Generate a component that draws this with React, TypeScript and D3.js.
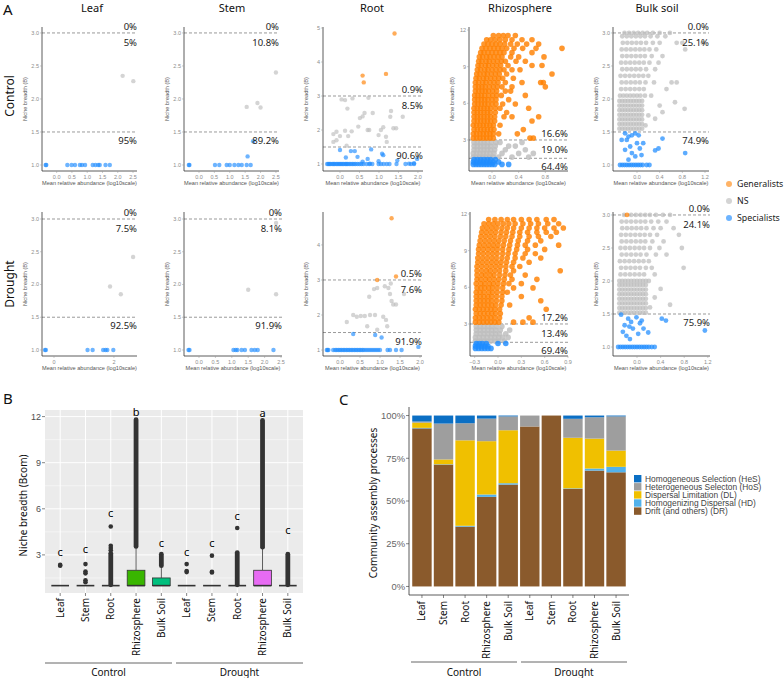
import React from "react";
import * as d3 from "d3";

type Pt = [number, number];
type Row = [number, number[]];
const fromRows = (r: Row[]): Pt[] => r.flatMap(([y, xs]) => xs.map((x) => [x, y] as Pt));
const atY = (y: number, xs: number[]): Pt[] => xs.map((x) => [x, y] as Pt);

// ---------------- Panel A data ----------------
const colTitles = ["Leaf", "Stem", "Root", "Rhizosphere", "Bulk soil"];
const rowTitles = ["Control", "Drought"];
const legendA = ["Generalists", "NS", "Specialists"];

// Leaf control
const leafC_S: Pt[] = atY(1, [-0.36, -0.34, 0.35, 0.49, 0.6, 0.76, 0.83, 0.93, 1.18, 1.27, 1.36, 1.41, 1.6, 1.74]);
const leafC_N: Pt[] = [[2.16, 2.35], [2.51, 2.27]];
// Stem control
const stemC_S: Pt[] = [...atY(1, [-0.33, -0.31, 0.52, 0.66, 0.9, 1.0, 1.15, 1.28, 1.39, 1.55, 1.68]), [1.58, 1.13], [1.76, 1.36]];
const stemC_N: Pt[] = [[1.55, 1.88], [1.9, 1.94], [2.0, 1.87], [2.5, 2.4]];
// Root control
const rootC_S: Pt[] = [
  ...atY(1, [-0.33, -0.3, -0.27, -0.24, -0.2, -0.17, -0.14, -0.1, -0.07, -0.03, 0, 0.03, 0.07, 0.1, 0.14, 0.17, 0.2, 0.24, 0.28, 0.32, 0.36, 0.4, 0.45, 0.5, 0.55, 0.6, 0.68, 0.75, 0.83, 0.99, 1.05, 1.12, 1.2, 1.27, 1.45, 1.68, 1.82, 1.9]),
  [0.0, 1.41], [0.15, 1.19], [0.28, 1.38], [0.38, 1.38], [0.45, 1.21], [0.58, 1.07], [0.71, 1.15], [0.8, 1.43], [0.77, 1.01],
  [1.08, 1.3], [1.11, 1.26], [0.99, 1.08], [1.47, 1.1], [1.98, 1.15], [1.9, 1.02], [1.77, 1.01],
];
const rootC_N: Pt[] = [
  [-0.17, 1.88], [-0.09, 1.95], [0, 1.82], [0.13, 1.98], [0.21, 1.82], [0.3, 1.96], [0.17, 1.54], [0.04, 2.9], [0.13, 2.88],
  [0.19, 2.63], [0.32, 2.93], [0.47, 2.1], [0.51, 2.35], [0.58, 2.4], [0.63, 2.5], [0.71, 2.0], [0.75, 2.0], [0.84, 2.5],
  [0.73, 2.95], [0.99, 1.85], [1.05, 2.0], [1.11, 2.08], [1.18, 1.8], [1.2, 1.65], [1.29, 2.39], [1.31, 2.56], [1.37, 2.05],
  [1.44, 2.05], [1.61, 2.39], [-0.09, 1.7], [-0.17, 1.65],
];
const rootC_G: Pt[] = [[1.4, 4.84], [0.58, 3.6], [0.61, 3.4], [1.18, 3.65]];
// Rhizosphere control
const rhizoC_G: Pt[] = fromRows([
  [3.15, [-0.28, -0.23, -0.18, -0.13, -0.08, -0.03, 0.02, 0.57, 0.62]],
  [3.5, [-0.28, -0.23, -0.18, -0.13, -0.08, -0.03, 0.02, 0.1, 0.38]],
  [3.85, [-0.27, -0.22, -0.17, -0.12, -0.07, -0.02, 0.03, 0.47]],
  [4.2, [-0.28, -0.23, -0.18, -0.13, -0.08, -0.03, 0.02, 0.12]],
  [4.55, [-0.27, -0.22, -0.17, -0.12, -0.07, -0.02, 0.04, 0.6]],
  [4.9, [-0.27, -0.22, -0.17, -0.12, -0.07, -0.02, 0.04, 0.18, 0.3, 0.7]],
  [5.25, [-0.27, -0.22, -0.17, -0.12, -0.07, -0.02, 0.05, 0.22]],
  [5.6, [-0.27, -0.22, -0.17, -0.12, -0.07, -0.02, 0.05, 0.12, 0.55]],
  [5.95, [-0.26, -0.21, -0.16, -0.11, -0.06, 0.0, 0.06, 0.16, 0.35]],
  [6.3, [-0.26, -0.21, -0.16, -0.11, -0.06, 0.0, 0.06, 0.25]],
  [6.65, [-0.26, -0.21, -0.16, -0.11, -0.05, 0.01, 0.07, 0.14, 0.5]],
  [7.0, [-0.25, -0.2, -0.15, -0.1, -0.05, 0.01, 0.07, 0.2, 0.28]],
  [7.35, [-0.25, -0.2, -0.15, -0.1, -0.04, 0.02, 0.08, 0.15, 0.3, 0.8]],
  [7.7, [-0.25, -0.2, -0.14, -0.09, -0.03, 0.03, 0.09, 0.2, 0.45, 0.73, 0.77]],
  [8.05, [-0.24, -0.19, -0.13, -0.08, -0.02, 0.04, 0.1, 0.16, 0.32]],
  [8.4, [-0.23, -0.18, -0.12, -0.07, -0.01, 0.05, 0.11, 0.22, 0.9]],
  [8.75, [-0.22, -0.17, -0.11, -0.06, 0.0, 0.06, 0.12, 0.18, 0.3, 0.42]],
  [9.1, [-0.21, -0.16, -0.1, -0.05, 0.01, 0.07, 0.13, 0.24, 0.6, 0.75]],
  [9.45, [-0.2, -0.15, -0.09, -0.04, 0.02, 0.08, 0.14, 0.2, 0.36, 0.5]],
  [9.8, [-0.19, -0.14, -0.08, -0.03, 0.03, 0.09, 0.15, 0.28, 0.4, 0.78]],
  [10.15, [-0.17, -0.12, -0.06, 0.0, 0.06, 0.12, 0.18, 0.3, 0.6]],
  [10.5, [-0.15, -0.09, -0.03, 0.03, 0.09, 0.15, 0.22, 0.33, 0.46, 0.66, 1.05]],
  [10.85, [-0.12, -0.06, 0.0, 0.06, 0.12, 0.19, 0.28, 0.38, 0.52, 0.7]],
  [11.2, [-0.08, -0.02, 0.05, 0.12, 0.2, 0.3, 0.45, 0.6]],
  [11.55, [0.02, 0.1, 0.17, 0.24, 0.35]],
]);
const rhizoC_N: Pt[] = fromRows([
  [1.6, [-0.28, -0.23, -0.18, -0.13, -0.08, -0.03, 0.02, 0.1, 0.3, 0.55]],
  [1.9, [-0.28, -0.23, -0.18, -0.13, -0.08, -0.03, 0.03, 0.15, 0.4, 0.62]],
  [2.2, [-0.27, -0.22, -0.17, -0.12, -0.07, -0.02, 0.04, 0.2, 0.5]],
  [2.5, [-0.27, -0.22, -0.17, -0.12, -0.07, -0.02, 0.05, 0.25, 0.35]],
  [2.8, [-0.27, -0.22, -0.17, -0.12, -0.07, -0.01, 0.06, 0.12, 0.45]],
]);
const rhizoC_S: Pt[] = fromRows([
  [1.0, [-0.28, -0.24, -0.2, -0.16, -0.12, -0.08, -0.04, 0.0, 0.04, 0.15, 0.25]],
  [1.2, [-0.28, -0.23, -0.18, -0.13, -0.08, -0.03, 0.02, 0.1]],
  [1.4, [-0.27, -0.22, -0.17, -0.12, -0.07, -0.02, 0.05]],
]);
// Bulk soil control
const bulkC_N: Pt[] = [
  ...fromRows([
    [1.55, [-0.31, -0.26, -0.21, -0.16, -0.11, -0.06, -0.01, 0.04, 0.09]],
    [1.62, [-0.31, -0.26, -0.21, -0.16, -0.11, -0.06, -0.01, 0.04, 0.09]],
    [1.69, [-0.31, -0.26, -0.21, -0.16, -0.11, -0.06, -0.01, 0.04, 0.09]],
    [1.76, [-0.31, -0.26, -0.21, -0.16, -0.11, -0.06, -0.01, 0.04, 0.09]],
    [1.83, [-0.31, -0.26, -0.21, -0.16, -0.11, -0.06, -0.01, 0.04, 0.09]],
    [1.9, [-0.31, -0.26, -0.21, -0.16, -0.11, -0.06, -0.01, 0.04, 0.09]],
    [1.97, [-0.31, -0.26, -0.21, -0.16, -0.11, -0.06, -0.01, 0.04, 0.09]],
    [2.05, [-0.3, -0.24, -0.18, -0.12, -0.06, 0.0, 0.06, 0.14, 0.25]],
    [2.15, [-0.28, -0.2, -0.12, -0.04, 0.04, 0.12, 0.52]],
    [2.25, [-0.27, -0.19, -0.11, -0.03, 0.05, 0.15, 0.3, 0.61, 0.7]],
    [2.35, [-0.29, -0.21, -0.13, -0.05, 0.03, 0.11, 0.2]],
    [2.45, [-0.26, -0.18, -0.1, -0.02, 0.06, 0.16, 0.32]],
    [2.55, [-0.28, -0.2, -0.12, -0.04, 0.04, 0.12, 0.22, 0.38]],
    [2.65, [-0.26, -0.18, -0.1, -0.02, 0.06, 0.14, 0.26, 0.45]],
    [2.75, [-0.27, -0.19, -0.11, -0.03, 0.05, 0.13, 0.22, 0.34, 0.85]],
    [2.85, [-0.25, -0.17, -0.09, -0.01, 0.07, 0.16, 0.28, 0.4, 0.7, 0.8, 1.16]],
    [2.95, [-0.26, -0.18, -0.1, -0.02, 0.06, 0.14, 0.24, 0.36, 0.5]],
    [3.0, [-0.22, -0.14, -0.06, 0.02, 0.1, 0.18, 0.28, 0.4, 0.58]],
  ]),
  [0.4, 1.9], [0.32, 1.7], [0.45, 1.8], [0.67, 1.95], [0.84, 1.85], [0.15, 1.6], [0.2, 1.75],
];
const bulkC_S: Pt[] = [
  ...atY(1, [-0.3, -0.26, -0.22, -0.18, -0.14, -0.1, -0.06, -0.02, 0.02, 0.06, 0.1, 0.17, 0.22]),
  [-0.21, 1.48], [-0.15, 1.43], [-0.18, 1.38], [-0.09, 1.45], [-0.03, 1.48], [-0.12, 1.28], [0.0, 1.33], [-0.21, 1.23],
  [-0.09, 1.18], [0.05, 1.25], [-0.03, 1.13], [-0.15, 1.08], [0.11, 1.33], [0.03, 1.45], [0.45, 1.4], [0.32, 1.22],
  [0.38, 1.25], [0.85, 1.18], [0.08, 1.15], [-0.27, 1.38],
];

// Leaf drought
const leafD_S: Pt[] = atY(1, [-0.3, -0.27, 1.12, 1.29, 1.64, 1.72, 1.78, 1.98]);
const leafD_N: Pt[] = [[1.87, 1.97], [2.23, 1.85], [2.64, 2.42]];
// Stem drought
const stemD_S: Pt[] = atY(1, [-0.32, -0.29, 1.05, 1.12, 1.17, 1.3, 1.4, 1.6, 1.7, 1.79, 2.27]);
const stemD_N: Pt[] = [[1.5, 1.92], [2.35, 1.85], [2.35, 2.94]];
// Root drought
const rootD_S: Pt[] = [
  ...atY(1, [-0.33, -0.31, -0.29, -0.17, -0.12, -0.08, -0.04, 0, 0.04, 0.08, 0.12, 0.16, 0.2, 0.24, 0.28, 0.32, 0.36, 0.4, 0.44, 0.48, 0.52, 0.56, 0.6, 0.65, 0.7, 0.75, 0.8, 0.85, 0.9, 0.95, 1.0, 1.19, 1.25, 1.4, 1.54]),
  [1.96, 1.09], [0.33, 1.46], [0.88, 1.43], [1.04, 1.36],
];
const rootD_N: Pt[] = [
  [0.17, 1.8], [0.33, 2.0], [0.42, 1.95], [0.52, 1.97], [0.62, 1.97], [0.75, 2.0], [0.875, 2.0], [0.68, 1.68], [0.93, 1.58],
  [0.73, 2.52], [0.85, 2.74], [0.93, 2.77], [1.08, 1.95], [1.15, 1.86], [1.18, 1.68], [1.12, 2.82], [1.21, 2.77], [1.27, 2.9],
  [1.29, 2.4], [1.33, 2.3], [1.4, 2.3], [1.6, 2.6], [1.25, 2.6],
];
const rootD_G: Pt[] = [[1.29, 4.76], [0.93, 3.0], [1.4, 3.1]];
// Rhizosphere drought
const rhizoD_G: Pt[] = fromRows([
  [3.15, [-0.29, -0.24, -0.19, -0.14, -0.09, -0.04, 0.01, 0.2, 0.32, 0.45]],
  [3.5, [-0.29, -0.24, -0.19, -0.14, -0.09, -0.04, 0.02, 0.4]],
  [3.85, [-0.28, -0.23, -0.18, -0.13, -0.08, -0.03, 0.03]],
  [4.2, [-0.29, -0.24, -0.19, -0.14, -0.09, -0.04, 0.02, 0.62]],
  [4.55, [-0.28, -0.23, -0.18, -0.13, -0.08, -0.03, 0.04, 0.15]],
  [4.9, [-0.28, -0.23, -0.18, -0.13, -0.08, -0.02, 0.05, 0.55]],
  [5.25, [-0.28, -0.23, -0.18, -0.13, -0.08, -0.02, 0.05, 0.3]],
  [5.6, [-0.28, -0.23, -0.18, -0.12, -0.07, -0.01, 0.06, 0.12]],
  [5.95, [-0.27, -0.22, -0.17, -0.12, -0.07, -0.01, 0.06, 0.2, 0.45]],
  [6.3, [-0.28, -0.22, -0.17, -0.11, -0.06, 0.0, 0.07, 0.14, 0.3]],
  [6.65, [-0.27, -0.22, -0.16, -0.11, -0.05, 0.01, 0.08, 0.18, 0.5]],
  [7.0, [-0.27, -0.21, -0.16, -0.1, -0.05, 0.02, 0.09, 0.16, 0.35]],
  [7.35, [-0.27, -0.21, -0.15, -0.1, -0.04, 0.02, 0.1, 0.2, 0.8]],
  [7.7, [-0.27, -0.21, -0.15, -0.09, -0.03, 0.03, 0.1, 0.18, 0.28]],
  [8.05, [-0.26, -0.2, -0.14, -0.08, -0.02, 0.04, 0.11, 0.2, 0.4]],
  [8.4, [-0.26, -0.2, -0.14, -0.08, -0.02, 0.05, 0.12, 0.22, 0.32, 0.55]],
  [8.75, [-0.25, -0.19, -0.13, -0.07, -0.01, 0.06, 0.13, 0.22, 0.35, 0.48]],
  [9.1, [-0.25, -0.19, -0.13, -0.07, -0.01, 0.06, 0.14, 0.24, 0.38, 0.6]],
  [9.45, [-0.24, -0.18, -0.12, -0.06, 0.0, 0.07, 0.15, 0.25, 0.35, 0.48, 0.78]],
  [9.8, [-0.23, -0.17, -0.11, -0.05, 0.01, 0.08, 0.16, 0.26, 0.38, 0.55]],
  [10.15, [-0.22, -0.16, -0.1, -0.04, 0.03, 0.1, 0.18, 0.28, 0.4, 0.52, 0.68]],
  [10.5, [-0.21, -0.15, -0.09, -0.03, 0.04, 0.11, 0.19, 0.28, 0.38, 0.5, 0.62, 0.75]],
  [10.85, [-0.2, -0.14, -0.08, -0.02, 0.05, 0.12, 0.2, 0.3, 0.4, 0.5, 0.6, 0.72, 0.84]],
  [11.2, [-0.18, -0.12, -0.06, 0.0, 0.07, 0.14, 0.22, 0.32, 0.42, 0.52, 0.64, 0.78]],
  [11.55, [-0.12, -0.04, 0.04, 0.12, 0.2, 0.3, 0.4, 0.5, 0.62, 0.72]],
]);
const rhizoD_N: Pt[] = fromRows([
  [1.6, [-0.29, -0.24, -0.19, -0.14, -0.09, -0.04, 0.01, 0.08]],
  [1.9, [-0.29, -0.24, -0.19, -0.14, -0.09, -0.04, 0.01, 0.06, 0.13]],
  [2.2, [-0.28, -0.23, -0.18, -0.13, -0.08, -0.03, 0.02, 0.1]],
  [2.5, [-0.28, -0.23, -0.18, -0.13, -0.08, -0.03, 0.03, 0.15]],
  [2.8, [-0.28, -0.23, -0.18, -0.13, -0.08, -0.02, 0.05]],
]);
const rhizoD_S: Pt[] = fromRows([
  [1.0, [-0.29, -0.25, -0.21, -0.17, -0.13, -0.09]],
  [1.2, [-0.29, -0.25, -0.21, -0.17, -0.13]],
  [1.4, [-0.28, -0.24, -0.2, -0.15, 0.0, 0.1]],
]);
// Bulk soil drought
const bulkD_N: Pt[] = [
  ...fromRows([
    [1.52, [-0.3, -0.25, -0.2, -0.15, -0.1, -0.05, 0, 0.05, 0.1, 0.15]],
    [1.59, [-0.3, -0.25, -0.2, -0.15, -0.1, -0.05, 0, 0.05, 0.1, 0.15]],
    [1.66, [-0.3, -0.25, -0.2, -0.15, -0.1, -0.05, 0, 0.05, 0.1, 0.15]],
    [1.73, [-0.3, -0.25, -0.2, -0.15, -0.1, -0.05, 0, 0.05, 0.1, 0.15]],
    [1.8, [-0.3, -0.25, -0.2, -0.15, -0.1, -0.05, 0, 0.05, 0.1, 0.15]],
    [1.87, [-0.3, -0.25, -0.2, -0.15, -0.1, -0.05, 0, 0.05, 0.1, 0.15]],
    [1.94, [-0.3, -0.25, -0.2, -0.15, -0.1, -0.05, 0, 0.05, 0.1, 0.15]],
    [2.0, [-0.3, -0.25, -0.2, -0.15, -0.1, -0.05, 0, 0.05, 0.1, 0.15, 0.2]],
    [2.1, [-0.28, -0.2, -0.12, -0.04, 0.04, 0.12, 0.3]],
    [2.2, [-0.27, -0.19, -0.11, -0.03, 0.05, 0.15, 0.25, 0.79]],
    [2.3, [-0.29, -0.21, -0.13, -0.05, 0.03, 0.11, 0.2]],
    [2.4, [-0.26, -0.18, -0.1, -0.02, 0.06, 0.16, 0.32, 0.5]],
    [2.5, [-0.28, -0.2, -0.12, -0.04, 0.04, 0.12, 0.22, 0.38, 0.76]],
    [2.6, [-0.26, -0.18, -0.1, -0.02, 0.06, 0.14, 0.26, 0.45]],
    [2.7, [-0.27, -0.19, -0.11, -0.03, 0.05, 0.13, 0.22, 0.34, 0.71]],
    [2.8, [-0.25, -0.17, -0.09, -0.01, 0.07, 0.16, 0.28, 0.4, 0.62]],
    [2.9, [-0.26, -0.18, -0.1, -0.02, 0.06, 0.14, 0.24, 0.36, 0.5]],
    [3.0, [-0.22, -0.1, -0.02, 0.06, 0.14, 0.22, 0.32, 0.44, 0.56]],
  ]),
  [0.4, 1.88], [0.56, 1.64], [0.3, 1.75], [0.22, 1.6],
];
const bulkD_S: Pt[] = [
  ...atY(1, [-0.32, -0.28, -0.24, -0.2, -0.16, -0.12, -0.08, -0.04, 0, 0.04, 0.08, 0.12, 0.16, 0.2, 0.25, 0.3]),
  [-0.27, 1.49], [-0.15, 1.43], [-0.1, 1.38], [-0.01, 1.45], [-0.21, 1.33], [-0.07, 1.28], [0.05, 1.36], [-0.24, 1.23],
  [0.11, 1.28], [0.19, 1.22], [-0.12, 1.12], [-0.18, 1.17], [0.02, 1.2], [0.42, 1.43], [0.49, 1.4], [1.15, 1.25],
  [-0.13, 1.31], [0.08, 1.4],
];
const bulkD_G: Pt[] = [[-0.17, 3.0]];

// percentage labels: [above upper line, between lines, below lower line]
const pctLeafC = ["0%", "5%", "95%"];
const pctStemC = ["0%", "10.8%", "89.2%"];
const pctRootC = ["0.9%", "8.5%", "90.6%"];
const pctRhizoC = ["16.6%", "19.0%", "64.4%"];
const pctBulkC = ["0.0%", "25.1%", "74.9%"];
const pctLeafD = ["0%", "7.5%", "92.5%"];
const pctStemD = ["0%", "8.1%", "91.9%"];
const pctRootD = ["0.5%", "7.6%", "91.9%"];
const pctRhizoD = ["17.2%", "13.4%", "69.4%"];
const pctBulkD = ["0.0%", "24.1%", "75.9%"];

// ---------------- Panel B data ----------------
const bCats = ["Leaf", "Stem", "Root", "Rhizosphere", "Bulk Soil", "Leaf", "Stem", "Root", "Rhizosphere", "Bulk Soil"];
const bGroups = ["Control", "Drought"];
const bQ1 = [1, 1, 1, 1, 1, 1, 1, 1, 1, 1];
const bMed = [1, 1, 1, 1, 1, 1, 1, 1, 1, 1];
const bQ3 = [1, 1, 1, 2.0, 1.5, 1, 1, 1, 2.0, 1];
const bWhiskHi = [1, 1, 1, 3.5, 2.3, 1, 1, 1, 3.45, 1];
const bDenseOut: ([number, number] | null)[] = [null, null, [1.05, 3.1], [3.55, 11.8], [2.3, 3.05], null, null, [1.05, 3.15], [3.5, 11.75], [1.05, 3.05]];
const bOutliers = [[2.3, 2.35], [2.4, 1.92, 1.8, 1.35, 1.22], [3.3, 3.45, 3.6, 4.85], [], [], [2.4, 1.95, 1.88], [2.95, 1.9, 1.85], [4.75], [], []];
const bLetters = ["c", "c", "c", "b", "c", "c", "c", "c", "a", "c"];
const bLetterY = [3.15, 3.33, 5.66, 12.24, 3.76, 3.15, 3.76, 5.46, 12.2, 4.57];
const bFill = ["#F8766D", "#D89000", "#A3A500", "#39B600", "#00BF7D", "#00BFC4", "#00B0F6", "#9590FF", "#E76BF3", "#FF62BC"];
const bYTicks = [3, 6, 9, 12];

// ---------------- Panel C data ----------------
const cCats = bCats;
const cKeys = ["DR", "HD", "DL", "HoS", "HeS"];
const cLegend = [
  ["HeS", "Homogeneous Selection (HeS)"],
  ["HoS", "Heterogeneous Selecton (HoS)"],
  ["DL", "Dispersal Limitation (DL)"],
  ["HD", "Homogenizing Dispersal (HD)"],
  ["DR", "Drift (and others) (DR)"],
];
const cHeS = [0.035, 0.047, 0.045, 0.018, 0.005, 0, 0, 0.019, 0.01, 0.005];
const cHoS = [0.007, 0.21, 0.1, 0.132, 0.081, 0.064, 0, 0.111, 0.125, 0.2];
const cDL = [0.03, 0.028, 0.5, 0.312, 0.31, 0, 0, 0.296, 0.175, 0.095];
const cHD = [0.003, 0.002, 0.005, 0.014, 0.008, 0, 0, 0.003, 0.012, 0.032];
const cDR = [0.925, 0.713, 0.35, 0.524, 0.596, 0.936, 1.0, 0.571, 0.678, 0.668];
const cYTicks = [0, 0.25, 0.5, 0.75, 1];
const cColors: Record<string, string> = { HeS: "#0B6FC4", HoS: "#9E9E9E", DL: "#F0C000", HD: "#52B2EC", DR: "#8A5A2C" };

// ---------------- styling ----------------
const FT = "'Noto Sans', 'Open Sans', sans-serif";
const FA = "'Liberation Sans', Arial, sans-serif";
const ORANGE = "#FF8000";
const GRAY = "#BDBDBD";
const BLUE = "#1E8CFF";
const TOP = [27, 212];
const BOT = [171, 356];

type PanelCfg = {
  row: number; left: number; right: number; r: number; op: number;
  xDomain: [number, number]; yDomain: [number, number];
  xTicks: number[]; yTicks: number[]; xFmt: string; yFmt: string;
  pct: string[]; S: Pt[]; N: Pt[]; G: Pt[];
};

const panels: PanelCfg[] = [
  { row: 0, left: 42, right: 137, r: 2.2, op: 0.65, xDomain: [-0.48, 2.63], yDomain: [0.909, 3.09], xTicks: [0, 0.5, 1, 1.5, 2, 2.5], yTicks: [1, 1.5, 2, 2.5, 3], xFmt: ".1f", yFmt: ".1f", pct: pctLeafC, S: leafC_S, N: leafC_N, G: [] },
  { row: 0, left: 184, right: 279, r: 2.2, op: 0.65, xDomain: [-0.487, 2.6], yDomain: [0.909, 3.09], xTicks: [0, 0.5, 1, 1.5, 2, 2.5], yTicks: [1, 1.5, 2, 2.5, 3], xFmt: ".1f", yFmt: ".1f", pct: pctStemC, S: stemC_S, N: stemC_N, G: [] },
  { row: 0, left: 323, right: 423, r: 2.2, op: 0.65, xDomain: [-0.436, 2.13], yDomain: [0.794, 5.03], xTicks: [0, 0.5, 1, 1.5, 2], yTicks: [1, 2, 3, 4, 5], xFmt: ".1f", yFmt: "d", pct: pctRootC, S: rootC_S, N: rootC_N, G: rootC_G },
  { row: 0, left: 469, right: 568, r: 2.8, op: 0.82, xDomain: [-0.345, 1.14], yDomain: [0.46, 12.25], xTicks: [0, 0.4, 0.8], yTicks: [3, 6, 9, 12], xFmt: ".1f", yFmt: "d", pct: pctRhizoC, S: rhizoC_S, N: rhizoC_N, G: rhizoC_G },
  { row: 0, left: 613, right: 709, r: 2.4, op: 0.72, xDomain: [-0.423, 1.27], yDomain: [0.909, 3.09], xTicks: [0, 0.4, 0.8, 1.2], yTicks: [1, 1.5, 2, 2.5, 3], xFmt: ".1f", yFmt: ".1f", pct: pctBulkC, S: bulkC_S, N: bulkC_N, G: [] },
  { row: 1, left: 42, right: 137, r: 2.2, op: 0.65, xDomain: [-0.4, 2.77], yDomain: [0.908, 3.107], xTicks: [0, 2], yTicks: [1, 1.5, 2, 2.5, 3], xFmt: "d", yFmt: ".1f", pct: pctLeafD, S: leafD_S, N: leafD_N, G: [] },
  { row: 1, left: 184, right: 282, r: 2.2, op: 0.65, xDomain: [-0.457, 2.53], yDomain: [0.908, 3.107], xTicks: [0, 0.5, 1, 1.5, 2, 2.5], yTicks: [1, 1.5, 2, 2.5, 3], xFmt: ".1f", yFmt: ".1f", pct: pctStemD, S: stemD_S, N: stemD_N, G: [] },
  { row: 1, left: 323, right: 422, r: 2.2, op: 0.65, xDomain: [-0.425, 2.05], yDomain: [0.83, 4.94], xTicks: [0, 0.5, 1, 1.5, 2], yTicks: [1, 2, 3, 4], xFmt: ".1f", yFmt: "d", pct: pctRootD, S: rootD_S, N: rootD_N, G: rootD_G },
  { row: 1, left: 470, right: 568, r: 2.8, op: 0.82, xDomain: [-0.36, 0.9], yDomain: [0.38, 12.16], xTicks: [-0.3, 0, 0.3, 0.6, 0.9], yTicks: [3, 6, 9, 12], xFmt: ".1f", yFmt: "d", pct: pctRhizoD, S: rhizoD_S, N: rhizoD_N, G: rhizoD_G },
  { row: 1, left: 613, right: 710, r: 2.4, op: 0.72, xDomain: [-0.407, 1.237], yDomain: [0.864, 3.045], xTicks: [0, 0.4, 0.8, 1.2], yTicks: [1, 1.5, 2, 2.5, 3], xFmt: ".1f", yFmt: ".1f", pct: pctBulkD, S: bulkD_S, N: bulkD_N, G: bulkD_G },
];
const titleX = [92, 232, 372, 520, 657];

function ScatterPanel({ p }: { p: PanelCfg }) {
  const top = TOP[p.row];
  const bottom = BOT[p.row];
  const x = d3.scaleLinear().domain(p.xDomain).range([p.left, p.right]);
  const y = d3.scaleLinear().domain(p.yDomain).range([bottom, top]);
  const fx = d3.format(p.xFmt);
  const fy = d3.format(p.yFmt);
  const hi = y(3);
  const lo = y(1.5);
  const dots = (pts: Pt[], fill: string, op: number, k: string) =>
    pts.map(([a, b], i) => <circle key={k + i} cx={x(a)} cy={y(b)} r={p.r} fill={fill} fillOpacity={op} />);
  return (
    <g>
      {[hi, lo].map((yy, i) => (
        <line key={"d" + i} x1={p.left} x2={p.right} y1={yy} y2={yy} stroke="#555" strokeWidth={0.6} strokeDasharray="3,2" />
      ))}
      {dots(p.N, GRAY, p.op, "n")}
      {dots(p.S, BLUE, p.op, "s")}
      {dots(p.G, ORANGE, p.op, "g")}
      <line x1={p.left} x2={p.left} y1={top} y2={bottom} stroke="#333" strokeWidth={0.8} />
      <line x1={p.left} x2={p.right} y1={bottom} y2={bottom} stroke="#333" strokeWidth={0.8} />
      {p.yTicks.map((t) => (
        <g key={"yt" + t}>
          <line x1={p.left - 2} x2={p.left} y1={y(t)} y2={y(t)} stroke="#999" strokeWidth={0.5} />
          <text x={p.left - 3} y={y(t)} dy="0.35em" textAnchor="end" fontSize={5.5} fill="#8c8c8c" fontFamily={FA}>{fy(t)}</text>
        </g>
      ))}
      {p.xTicks.map((t) => (
        <g key={"xt" + t}>
          <line x1={x(t)} x2={x(t)} y1={bottom} y2={bottom + 2} stroke="#999" strokeWidth={0.5} />
          <text x={x(t)} y={bottom + 7.5} textAnchor="middle" fontSize={5.5} fill="#8c8c8c" fontFamily={FA}>{fx(t)}</text>
        </g>
      ))}
      <text transform={`translate(${p.left - 15},${(top + bottom) / 2}) rotate(-90)`} textAnchor="middle" fontSize={5.6} fill="#555" fontFamily={FA}>Niche breadth (B)</text>
      <text x={(p.left + p.right) / 2} y={bottom + 14} textAnchor="middle" fontSize={5.6} fill="#555" fontFamily={FA}>Mean relative abundance (log10scale)</text>
      <text x={p.right} y={hi - 3} textAnchor="end" fontSize={9.5} fill="#222" fontFamily={FT}>{p.pct[0]}</text>
      <text x={p.right} y={hi + 13} textAnchor="end" fontSize={9.5} fill="#222" fontFamily={FT}>{p.pct[1]}</text>
      <text x={p.right} y={lo + 12} textAnchor="end" fontSize={9.5} fill="#222" fontFamily={FT}>{p.pct[2]}</text>
    </g>
  );
}

function PanelB() {
  const L = 45, R = 303, T = 410, B = 593;
  const x = d3.scalePoint<number>().domain(d3.range(bCats.length)).range([L, R]).padding(0.6);
  const y = d3.scaleLinear().domain([0.52, 12.43]).range([B, T]);
  const bw = x.step() * 0.7;
  const minor = [1.5, 4.5, 7.5, 10.5];
  return (
    <g>
      <text x={3} y={404} fontSize={15} fontFamily={FT} fill="#111">B</text>
      <rect x={L} y={T} width={R - L} height={B - T} fill="#EBEBEB" />
      {minor.map((t) => <line key={"mn" + t} x1={L} x2={R} y1={y(t)} y2={y(t)} stroke="#fff" strokeWidth={0.5} />)}
      {bYTicks.map((t) => <line key={"mj" + t} x1={L} x2={R} y1={y(t)} y2={y(t)} stroke="#fff" strokeWidth={1} />)}
      {bCats.map((_, i) => <line key={"vg" + i} x1={x(i)!} x2={x(i)!} y1={T} y2={B} stroke="#fff" strokeWidth={1} />)}
      {bCats.map((_, i) => {
        const cx = x(i)!;
        const d = bDenseOut[i];
        return (
          <g key={"bx" + i}>
            {bWhiskHi[i] > bQ3[i] && <line x1={cx} x2={cx} y1={y(bQ3[i])} y2={y(bWhiskHi[i])} stroke="#333" strokeWidth={0.8} />}
            {d && <line x1={cx} x2={cx} y1={y(d[0])} y2={y(d[1])} stroke="#333" strokeWidth={4.8} strokeLinecap="round" />}
            {bOutliers[i].map((v, j) => <circle key={j} cx={cx} cy={y(v)} r={2.3} fill="#333" />)}
            <rect x={cx - bw / 2} y={y(bQ3[i])} width={bw} height={Math.max(0, y(bQ1[i]) - y(bQ3[i]))} fill={bFill[i]} stroke="#333" strokeWidth={0.8} />
            <line x1={cx - bw / 2} x2={cx + bw / 2} y1={y(bMed[i])} y2={y(bMed[i])} stroke="#333" strokeWidth={1.6} />
            <text x={cx} y={y(bLetterY[i])} dy="0.3em" textAnchor="middle" fontSize={11} fill="#000" style={{ fill: "#000" }} fontFamily={FT}>{bLetters[i]}</text>
            <line x1={cx} x2={cx} y1={B} y2={B + 3} stroke="#333" strokeWidth={0.6} />
            <text transform={`translate(${cx},${B + 5}) rotate(-90)`} dy="0.35em" textAnchor="end" fontSize={10} fill="#111" fontFamily={FT}>{bCats[i]}</text>
          </g>
        );
      })}
      {bYTicks.map((t) => (
        <g key={"byt" + t}>
          <line x1={L - 3} x2={L} y1={y(t)} y2={y(t)} stroke="#333" strokeWidth={0.6} />
          <text x={L - 4} y={y(t)} dy="0.35em" textAnchor="end" fontSize={9} fill="#4d4d4d" fontFamily={FA}>{t}</text>
        </g>
      ))}
      <text transform={`translate(27,${(T + B) / 2 + 4}) rotate(-90)`} textAnchor="middle" fontSize={10} fill="#111" fontFamily={FT}>Niche breadth (Bcom)</text>
      {bGroups.map((g, k) => {
        const x0 = k === 0 ? L : 176;
        const x1 = k === 0 ? 172 : R;
        return (
          <g key={g}>
            <line x1={x0} x2={x1} y1={663} y2={663} stroke="#666" strokeWidth={1} />
            <text x={(x0 + x1) / 2} y={676} textAnchor="middle" fontSize={10} fill="#111" fontFamily={FT}>{g}</text>
          </g>
        );
      })}
    </g>
  );
}

function PanelC() {
  const L = 409, R = 629, T = 407, B = 595;
  const x = d3.scalePoint<number>().domain(d3.range(cCats.length)).range([L, R]).padding(0.6);
  const y = d3.scaleLinear().domain([-0.05, 1.05]).range([B, T]);
  const bw = x.step() * 0.9;
  const table = cCats.map((_, i) => ({ i, DR: cDR[i], HD: cHD[i], DL: cDL[i], HoS: cHoS[i], HeS: cHeS[i] }));
  const series = d3.stack<any>().keys(cKeys)(table);
  const fmt = d3.format(".0%");
  return (
    <g>
      <text x={339} y={405} fontSize={15} fontFamily={FT} fill="#111">C</text>
      {series.map((s) => (
        <g key={s.key} fill={cColors[s.key]}>
          {s.map((d, i) => (d[1] - d[0] > 0 ? <rect key={i} x={x(i)! - bw / 2} y={y(d[1])} width={bw} height={y(d[0]) - y(d[1])} /> : null))}
        </g>
      ))}
      <line x1={L} x2={L} y1={T} y2={B} stroke="#333" strokeWidth={0.8} />
      <line x1={L} x2={R} y1={B} y2={B} stroke="#333" strokeWidth={0.8} />
      {cYTicks.map((t) => (
        <g key={"cyt" + t}>
          <line x1={L - 3} x2={L} y1={y(t)} y2={y(t)} stroke="#333" strokeWidth={0.6} />
          <text x={L - 4} y={y(t)} dy="0.35em" textAnchor="end" fontSize={9.4} fill="#666" fontFamily={FA}>{fmt(t)}</text>
        </g>
      ))}
      {cCats.map((c, i) => (
        <g key={"cx" + i}>
          <line x1={x(i)!} x2={x(i)!} y1={B} y2={B + 3} stroke="#333" strokeWidth={0.6} />
          <text transform={`translate(${x(i)},${B + 6}) rotate(-90)`} dy="0.35em" textAnchor="end" fontSize={10} fill="#111" fontFamily={FT}>{c}</text>
        </g>
      ))}
      <text transform={`translate(377,503) rotate(-90)`} textAnchor="middle" fontSize={10} fill="#111" fontFamily={FT}>Community assembly processes</text>
      {bGroups.map((g, k) => {
        const x0 = k === 0 ? 411 : 521;
        const x1 = k === 0 ? 517 : 627;
        return (
          <g key={g}>
            <line x1={x0} x2={x1} y1={662} y2={662} stroke="#666" strokeWidth={1} />
            <text x={(x0 + x1) / 2} y={676} textAnchor="middle" fontSize={10} fill="#111" fontFamily={FT}>{g}</text>
          </g>
        );
      })}
      {cLegend.map(([k, label], i) => (
        <g key={k}>
          <rect x={634} y={475 + i * 8.1} width={7.4} height={7.4} fill={cColors[k]} />
          <text x={645} y={478.8 + i * 8.1} dy="0.35em" fontSize={8.4} fill="#444" fontFamily={FA}>{label}</text>
        </g>
      ))}
    </g>
  );
}

export default function App() {
  const legendCols = [ORANGE, GRAY, BLUE];
  const legendOp = [0.6, 0.65, 0.65];
  const legendY = [184, 201, 218];
  return (
    <svg width={784} height={678} viewBox="0 0 784 678" style={{ position: "absolute", left: 0, top: 0, background: "#fff" }}>
      <rect x={0} y={0} width={784} height={678} fill="#fff" />
      <text x={3} y={15} fontSize={15} fontFamily={FT} fill="#111">A</text>
      {colTitles.map((t, i) => (
        <text key={t} x={titleX[i]} y={12} textAnchor="middle" fontSize={11} fill="#111" fontFamily={FT}>{t}</text>
      ))}
      {rowTitles.map((t, i) => (
        <text key={t} transform={`translate(14,${i === 0 ? 96 : 284}) rotate(-90)`} textAnchor="middle" fontSize={12} fill="#111" fontFamily={FT}>{t}</text>
      ))}
      {panels.map((p, i) => <ScatterPanel key={i} p={p} />)}
      {legendA.map((t, i) => (
        <g key={t}>
          <circle cx={729} cy={legendY[i]} r={3} fill={legendCols[i]} fillOpacity={legendOp[i]} />
          <text x={737} y={legendY[i]} dy="0.35em" fontSize={8.8} fill="#222" fontFamily={FT}>{t}</text>
        </g>
      ))}
      <PanelB />
      <PanelC />
    </svg>
  );
}
